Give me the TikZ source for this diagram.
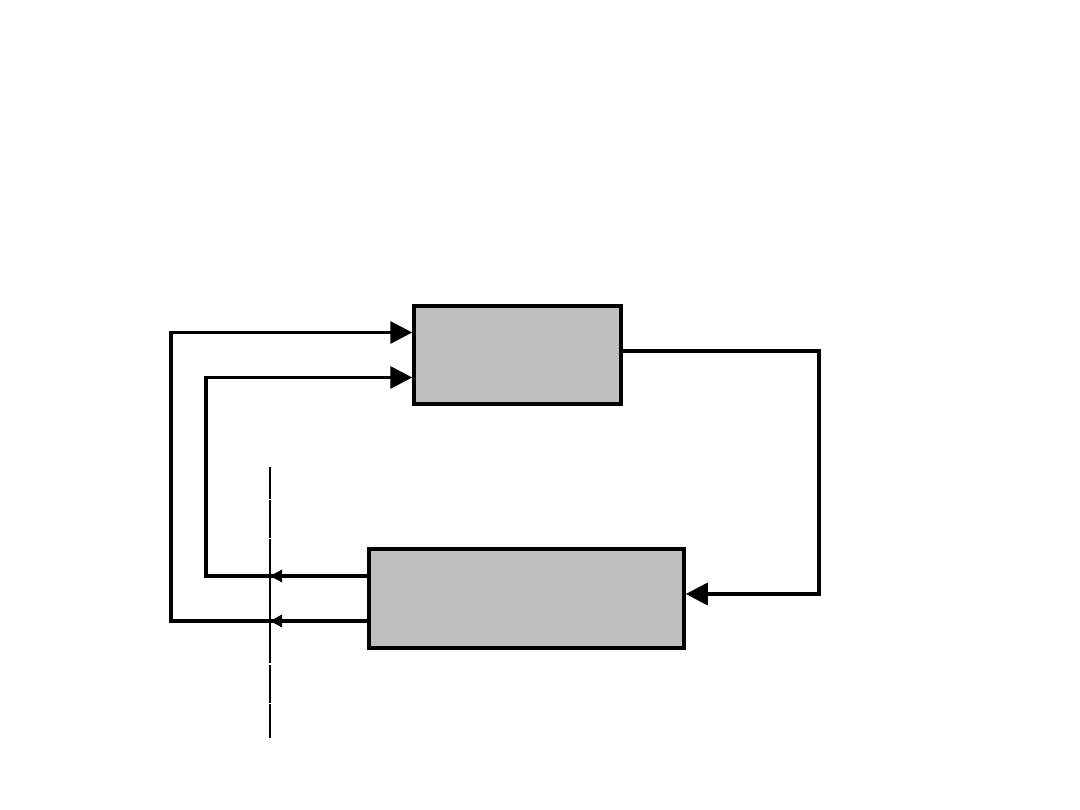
\documentclass[tikz,border=0pt]{standalone}
\usetikzlibrary{arrows.meta}
\begin{document}
\begin{tikzpicture}[x=1pt,y=-1pt,
  blockbox/.style={draw=black,fill=black!25,line width=3.5pt,rectangle,inner sep=0pt},
  wire/.style={line width=3.5pt,line join=miter},
  bigarrow/.style={wire,-{Triangle[length=22pt,width=22pt]}},
  smallarrow/.style={wire,-{Triangle[length=12pt,width=12pt]}},
  thinline/.style={line width=2pt}]
\useasboundingbox (0,0) rectangle (1080,810);
\node[blockbox,minimum width=207pt,minimum height=98pt] (top) at (517.5,355) {};
\node[blockbox,minimum width=315pt,minimum height=99pt] (bot) at (526.5,598.5) {};
% thin vertical line with small gaps
\coordinate (v0) at (270,467);
\coordinate (v1) at (270,498.5);
\coordinate (v2) at (270,500);
\coordinate (v3) at (270,537.5);
\coordinate (v4) at (270,539);
\coordinate (v5) at (270,663);
\coordinate (v6) at (270,664.5);
\coordinate (v7) at (270,702.5);
\coordinate (v8) at (270,704);
\coordinate (v9) at (270,738);
\draw[thinline] (v0) -- (v1) (v2) -- (v3) (v4) -- (v5) (v6) -- (v7) (v8) -- (v9);
% feedback loops
\coordinate (a1) at (206,576);
\coordinate (a2) at (206,377.5);
\coordinate (b1) at (171,621);
\coordinate (b2) at (171,332.5);
\coordinate (s1) at (270,576);
\coordinate (s2) at (270,621);
\draw[bigarrow] (bot.west |- s1) -- (a1) -- (a2) -- (top.west |- a2);
\draw[bigarrow] (bot.west |- s2) -- (b1) -- (b2) -- (top.west |- b2);
\draw[smallarrow] (bot.west |- s1) -- (s1);
\draw[smallarrow] (bot.west |- s2) -- (s2);
% forward path
\coordinate (r1) at (819,351);
\coordinate (r2) at (819,594);
\draw[bigarrow] (top.east |- r1) -- (r1) -- (r2) -- (bot.east |- r2);
\end{tikzpicture}
\end{document}
